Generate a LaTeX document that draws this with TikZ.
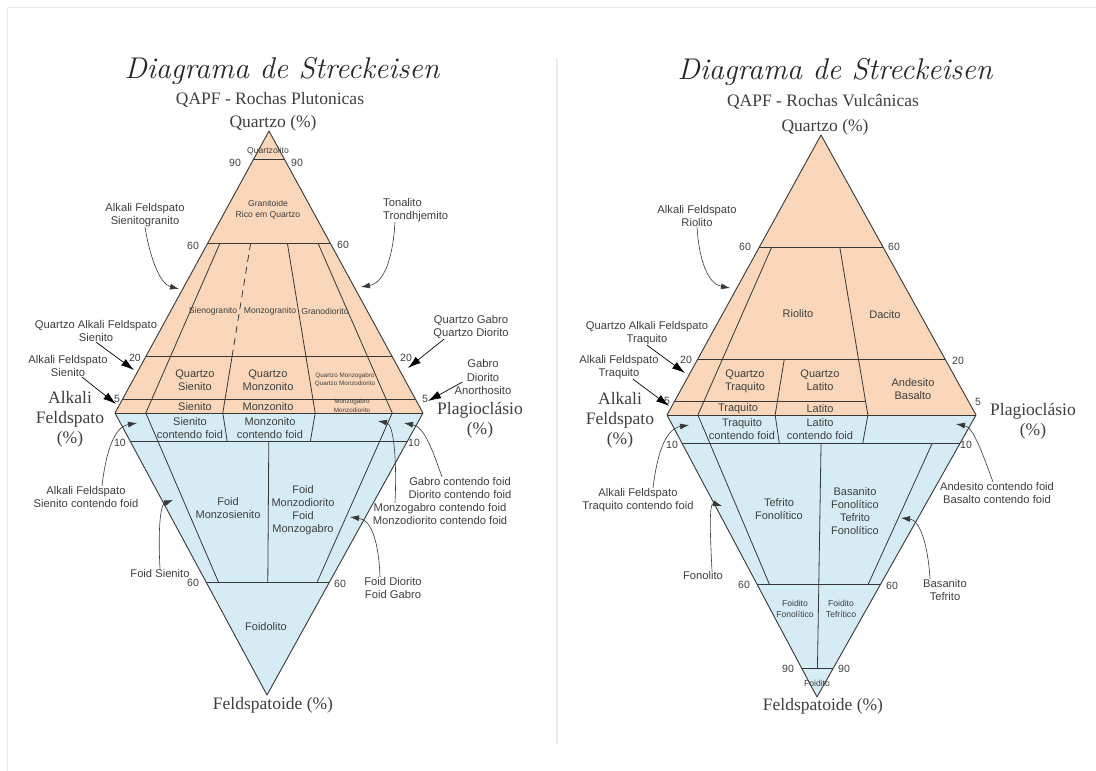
\documentclass[tikz,border=0pt]{standalone}
\usepackage{fontspec}
\newfontfamily\sans{Liberation Sans}
\newfontfamily\serifa{Liberation Serif}
\usetikzlibrary{calc,arrows.meta}

\definecolor{quartzo}{RGB}{250,215,186}
\definecolor{feldsp}{RGB}{213,236,245}
\definecolor{traco}{RGB}{55,55,55}
\definecolor{texto}{RGB}{62,62,62}

\tikzset{
  divisa/.style={draw=traco, line width=0.8pt},
  limite/.style={draw=traco, line width=0.9pt, line join=round},
  tracejado/.style={divisa, dash pattern=on 7pt off 5pt},
  rotulo/.style={font=\sans\fontsize{11.2}{13.5}\selectfont, text=texto, align=center, inner sep=0pt},
  campo/.style={font=\sans\fontsize{11}{12.8}\selectfont, text=texto, align=center, inner sep=0pt},
  miudo/.style={font=\sans\fontsize{8.6}{10.8}\selectfont, text=texto, align=center, inner sep=0pt},
  micro/.style={font=\sans\fontsize{6.3}{8.6}\selectfont, text=texto, align=center, inner sep=0pt},
  num/.style={font=\sans\fontsize{10.5}{12}\selectfont, text=texto, inner sep=0pt},
  eixo/.style={font=\serifa\fontsize{17.5}{20}\selectfont, text=texto, align=center, inner sep=0pt},
  titulo/.style={font=\itshape\fontsize{30}{34}\selectfont, text=black!85, inner sep=0pt},
  subtit/.style={font=\serifa\fontsize{17.5}{20}\selectfont, text=texto, inner sep=0pt},
  seta/.style={draw=traco, line width=0.6pt, -{Latex[length=9pt,width=6pt]}},
  setagrande/.style={draw=black, line width=0.7pt, -{Latex[length=13pt,width=8pt]}},
}

\begin{document}
\begin{tikzpicture}[x=1pt,y=-1pt]
\useasboundingbox (0,0) rectangle (1096,771);
% moldura e divisoria
\draw[black!8, line width=1pt] (7,771) -- (7,7) -- (1096,7);
\draw[black!7, line width=2pt] (557,58) -- (557,744);

%%%%%%%%%% rochas plutonicas
\coordinate (pQ) at (269,131);
\coordinate (pA) at (115,413);
\coordinate (pP) at (423,413);
\coordinate (pF) at (267,695);
\foreach \r in {10,35,50,65,90}
  \coordinate (pb\r) at ($(pA)!\r/100!(pP)$);

\fill[quartzo] (pA) -- (pQ) -- (pP) -- cycle;
\fill[feldsp] (pA) -- (pP) -- (pF) -- cycle;

\foreach \q in {0.05,0.2,0.6,0.9}
  \draw[divisa] ($(pA)!\q!(pQ)$) -- ($(pP)!\q!(pQ)$); % niveis de Q
\foreach \f in {0.1,0.6}
  \draw[divisa] ($(pA)!\f!(pF)$) -- ($(pP)!\f!(pF)$); % niveis de F
\foreach \r in {10,65,90}
  \draw[divisa] (pb\r) -- ($(pb\r)!0.6!(pQ)$);
\draw[divisa] (pb35) -- ($(pb35)!0.2!(pQ)$);
\draw[tracejado] ($(pb35)!0.2!(pQ)$) -- ($(pb35)!0.6!(pQ)$);
\foreach \r in {10,90}
  \draw[divisa] (pb\r) -- ($(pb\r)!0.6!(pF)$);
\foreach \r in {35,65}
  \draw[divisa] (pb\r) -- ($(pb\r)!0.1!(pF)$);
\draw[divisa] ($(pb50)!0.1!(pF)$) -- ($(pb50)!0.6!(pF)$);
\draw[limite] (pA) -- (pQ) -- (pP) -- (pF) -- cycle;
\draw[limite] (pA) -- (pP);

\node[titulo] (tit1) at (282,71) {Diagrama de Streckeisen};
\node[subtit] (sub1) at (270,100) {QAPF - Rochas Plutonicas};
\node[eixo] (pQz) at (273,123) {Quartzo (\%)};
\node[eixo] (pAk) at (70,419) {Alkali\\Feldspato\\(\%)};
\node[eixo] (pPl) at (480,420) {Plagioclásio\\(\%)};
\node[eixo] (pFd) at (273,705) {Feldspatoide (\%)};

\node[num] (pn90a) at (235,163) {90};
\node[num] (pn90b) at (297,163) {90};
\node[num] (pn60a) at (193,246) {60};
\node[num] (pn60b) at (343,245) {60};
\node[num] (pn20a) at (135,358) {20};
\node[num] (pn20b) at (406,358) {20};
\node[num] (pn5a) at (117,399) {5};
\node[num] (pn5b) at (425,399) {5};
\node[num] (pn10a) at (120,443) {10};
\node[num] (pn10b) at (414,443) {10};
\node[num] (pn60c) at (193,583) {60};
\node[num] (pn60d) at (340,584) {60};

\node[miudo] (pQzl) at (268,151) {Quartzolito};
\node[miudo] (pGrq) at (268,210) {Granitoide\\Rico em Quartzo};
\node[miudo] (pSgr) at (213,311) {Sienogranito};
\node[miudo] (pMgr) at (270,311) {Monzogranito};
\node[miudo] (pGdr) at (325,311) {Granodiorito};
\node[campo] (pQsi) at (195,380) {Quartzo\\Sienito};
\node[campo] (pQmz) at (268,380) {Quartzo\\Monzonito};
\node[micro] (pQmg) at (345,380) {Quartzo Monzogabro\\Quartzo Monzodiorito};
\node[campo] (pSie) at (195,407) {Sienito};
\node[campo] (pMon) at (268,407) {Monzonito};
\node[micro] (pMgd) at (352,406) {Monzogabro\\Monzodiorito};
\node[campo] (pSfd) at (190,428) {Sienito\\contendo foid};
\node[campo] (pMfd) at (270,428) {Monzonito\\contendo foid};
\node[campo] (pFms) at (228,508) {Foid\\Monzosienito};
\node[campo] (pFmd) at (303,510) {Foid\\Monzodiorito\\Foid\\Monzogabro};
\node[campo] (pFdl) at (266,627) {Foidolito};

\node[rotulo] (lAFSg) at (145,215) {Alkali Feldspato\\Sienitogranito};
\node[rotulo, align=left, anchor=west] (lTon) at (383,210) {Tonalito\\Trondhjemito};
\node[rotulo] (lQAFS) at (96,331) {Quartzo Alkali Feldspato\\Sienito};
\node[rotulo] (lAFS) at (68,366) {Alkali Feldspato\\Sienito};
\node[rotulo] (lQGD) at (471,327) {Quartzo Gabro\\Quartzo Diorito};
\node[rotulo] (lGDA) at (483,377) {Gabro\\Diorito\\Anorthosito};
\node[rotulo] (lAFSf) at (86,497) {Alkali Feldspato\\Sienito contendo foid};
\node[rotulo] (lGDf) at (460,488) {Gabro contendo foid\\Diorito contendo foid};
\node[rotulo] (lMGf) at (440,514) {Monzogabro contendo foid\\Monzodiorito contendo foid};
\node[rotulo] (lFS) at (160,573) {Foid Sienito};
\node[rotulo] (lFDG) at (393,588) {Foid Diorito\\Foid Gabro};

\coordinate (tAFSg) at (179,289);
\coordinate (tTon) at (361,287);
\coordinate (tQAFS) at (134,370);
\coordinate (tAFS) at (116,404);
\coordinate (tQGD) at (408,368);
\coordinate (tGDA) at (428,401);
\coordinate (tAFSf) at (137,423);
\coordinate (tGDf) at (404,423);
\coordinate (tMGf) at (378,421);
\coordinate (tFS) at (173,500);
\coordinate (tFDG) at (350,517);

\draw[seta] (lAFSg.south) .. controls (150,258) and (160,284) .. (tAFSg);
\draw[seta] ([xshift=12pt]lTon.south west) .. controls (393,258) and (384,283) .. (tTon);
\draw[setagrande] (lQAFS.south) -- (tQAFS);
\draw[setagrande] ([xshift=14pt]lAFS.south) -- (tAFS);
\draw[setagrande] ([xshift=11pt]lQGD.south west) -- (tQGD);
\draw[setagrande] ([xshift=8pt,yshift=-5pt]lGDA.west) -- (tGDA);
\draw[seta] ([xshift=16pt]lAFSf.north) .. controls (106,452) and (114,427) .. (tAFSf);
\draw[seta] ([xshift=-18pt]lGDf.north) .. controls (433,452) and (425,427) .. (tGDf);
\draw[seta] ([xshift=-45pt]lMGf.north) .. controls (397,462) and (394,424) .. (tMGf);
\draw[seta] (lFS.north) .. controls (158,532) and (160,505) .. (tFS);
\draw[seta] ([xshift=-13pt]lFDG.north) .. controls (379,547) and (373,520) .. (tFDG);

%%%%%%%%%% rochas vulcanicas
\coordinate (vQ) at (821,135);
\coordinate (vA) at (667,415);
\coordinate (vP) at (976,415);
\coordinate (vF) at (817,697);
\foreach \r in {10,35,50,65,90}
  \coordinate (vb\r) at ($(vA)!\r/100!(vP)$);

\fill[quartzo] (vA) -- (vQ) -- (vP) -- cycle;
\fill[feldsp] (vA) -- (vP) -- (vF) -- cycle;

\foreach \q in {0.2,0.6}
  \draw[divisa] ($(vA)!\q!(vQ)$) -- ($(vP)!\q!(vQ)$);
\draw[divisa] ($(vA)!0.05!(vQ)$) -- ($(vb65)!0.05!(vQ)$);
\foreach \f in {0.1,0.6,0.9}
  \draw[divisa] ($(vA)!\f!(vF)$) -- ($(vP)!\f!(vF)$);
\foreach \r in {10,65}
  \draw[divisa] (vb\r) -- ($(vb\r)!0.6!(vQ)$);
\draw[divisa] (vb35) -- ($(vb35)!0.2!(vQ)$);
\draw[divisa] (vb10) -- ($(vb10)!0.6!(vF)$);
\foreach \r in {35,65}
  \draw[divisa] (vb\r) -- ($(vb\r)!0.1!(vF)$);
\draw[divisa] ($(vb90)!0.1!(vF)$) -- ($(vb90)!0.6!(vF)$);
\draw[divisa] ($(vb50)!0.1!(vF)$) -- ($(vb50)!0.9!(vF)$);
\draw[limite] (vA) -- (vQ) -- (vP) -- (vF) -- cycle;
\draw[limite] (vA) -- (vP);

\node[titulo] (tit2) at (835,72) {Diagrama de Streckeisen};
\node[subtit] (sub2) at (823,102) {QAPF - Rochas Vulcânicas};
\node[eixo] (vQz) at (825,127) {Quartzo (\%)};
\node[eixo] (vAk) at (620,420) {Alkali\\Feldspato\\(\%)};
\node[eixo] (vPl) at (1033,421) {Plagioclásio\\(\%)};
\node[eixo] (vFd) at (823,706) {Feldspatoide (\%)};

\node[num] (vn60a) at (745,247) {60};
\node[num] (vn60b) at (894,247) {60};
\node[num] (vn20a) at (686,360) {20};
\node[num] (vn20b) at (958,361) {20};
\node[num] (vn5a) at (667,401) {5};
\node[num] (vn5b) at (978,402) {5};
\node[num] (vn10a) at (672,445) {10};
\node[num] (vn10b) at (966,445) {10};
\node[num] (vn60c) at (744,585) {60};
\node[num] (vn60d) at (892,586) {60};
\node[num] (vn90a) at (788,669) {90};
\node[num] (vn90b) at (844,669) {90};

\node[campo] (vRio) at (798,314) {Riolito};
\node[campo] (vDac) at (885,315) {Dacito};
\node[campo] (vQtr) at (745,381) {Quartzo\\Traquito};
\node[campo] (vQlt) at (820,380) {Quartzo\\Latito};
\node[campo] (vAnd) at (913,389) {Andesito\\Basalto};
\node[campo] (vTra) at (738,409) {Traquito};
\node[campo] (vLat) at (820,409) {Latito};
\node[campo] (vTfd) at (742,429) {Traquito\\contendo foid};
\node[campo] (vLfd) at (820,429) {Latito\\contendo foid};
\node[campo] (vTef) at (779,509) {Tefrito\\Fonolítico};
\node[campo] (vBas) at (855,511) {Basanito\\Fonolítico\\Tefrito\\Fonolítico};
\node[miudo] (vFfo) at (795,609) {Foidito\\Fonolítico};
\node[miudo] (vFte) at (841,609) {Foidito\\Tefrítico};
\node[miudo] (vFoi) at (817,683) {Foidito};

\node[rotulo] (lAFR) at (697,216) {Alkali Feldspato\\Riolito};
\node[rotulo] (lQAFT) at (647,333) {Quartzo Alkali Feldspato\\Traquito};
\node[rotulo] (lAFT) at (619,367) {Alkali Feldspato\\Traquito};
\node[rotulo] (lAFTf) at (638,500) {Alkali Feldspato\\Traquito contendo foid};
\node[rotulo] (lAcf) at (997,493) {Andesito contendo foid\\Basalto contendo foid};
\node[rotulo] (lFon) at (703,575) {Fonolito};
\node[rotulo] (lBT) at (945,590) {Basanito\\Tefrito};

\coordinate (tAFR) at (730,288);
\coordinate (tQAFT) at (685,373);
\coordinate (tAFT) at (669,406);
\coordinate (tAFTf) at (689,425);
\coordinate (tAcf) at (956,424);
\coordinate (tFon) at (722,506);
\coordinate (tBT) at (901,518);

\draw[seta] (lAFR.south) .. controls (699,260) and (708,284) .. (tAFR);
\draw[setagrande] (lQAFT.south) -- (tQAFT);
\draw[setagrande] ([xshift=14pt]lAFT.south) -- (tAFT);
\draw[seta] ([xshift=15pt]lAFTf.north) .. controls (657,455) and (665,429) .. (tAFTf);
\draw[seta] ([xshift=-4pt]lAcf.north) .. controls (982,452) and (973,427) .. (tAcf);
\draw[seta] ([xshift=9pt]lFon.north) .. controls (710,532) and (709,502) .. (tFon);
\draw[seta] ([xshift=-15pt]lBT.north) .. controls (928,545) and (920,520) .. (tBT);
\end{tikzpicture}
\end{document}
